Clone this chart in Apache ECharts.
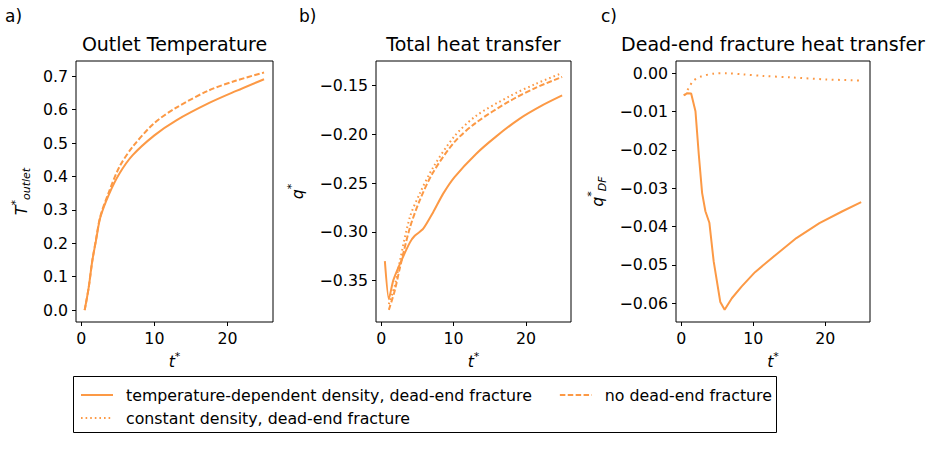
<!DOCTYPE html>
<html>
<head>
<meta charset="utf-8">
<script src="https://cdn.jsdelivr.net/npm/echarts@6/dist/echarts.min.js"></script>
<style>
  html, body { margin: 0; padding: 0; background: #fff; }
  #chart { width: 929px; height: 474px; }
</style>
</head>
<body>
<div id="chart"></div>
<script>
// a) outlet temperature
var tOutlet = [0.46, 1.0, 1.5, 2.0, 2.6, 3.8, 5.2, 7.0, 10.0, 13.0, 17.5, 21.2, 25.0];
var outletVarDens = [0.0, 0.066, 0.147, 0.207, 0.277, 0.347, 0.408, 0.463, 0.523, 0.568, 0.62, 0.656, 0.691];
var outletNoDF = [0.0, 0.066, 0.147, 0.21, 0.28, 0.355, 0.428, 0.488, 0.56, 0.606, 0.658, 0.687, 0.711];

// b) total heat transfer
var tTotal = [0.5, 1.05, 1.65, 2.57, 3.95, 4.63, 5.78, 7.16, 8.54, 10.1, 13.1, 15.9, 19.1, 22.3, 25.0];
var totalVarDens = [-0.330, -0.369, -0.350, -0.333, -0.311, -0.304, -0.297, -0.280, -0.261, -0.244, -0.220, -0.202, -0.184, -0.170, -0.160];
var tTotal2 = [1.05, 1.87, 2.57, 3.95, 5.3, 7.16, 10.1, 13.1, 17.7, 21.4, 25.0];
var totalNoDF = [-0.380, -0.360, -0.337, -0.296, -0.268, -0.239, -0.208, -0.188, -0.166, -0.152, -0.141];
var totalConstDens = [-0.374, -0.355, -0.330, -0.285, -0.261, -0.234, -0.202, -0.181, -0.161, -0.148, -0.137];

// c) dead-end fracture heat transfer
var tDF = [0.37, 0.83, 1.38, 1.98, 2.44, 2.9, 3.36, 3.91, 4.51, 5.43, 6.03, 7.03, 8.41, 10.25, 13.24, 16.0, 19.2, 22.4, 25.0];
var dfVarDens = [-0.0058, -0.0052, -0.0053, -0.0099, -0.0212, -0.0312, -0.036, -0.039, -0.0491, -0.0597, -0.0617, -0.0587, -0.0556, -0.0519, -0.0472, -0.0430, -0.0391, -0.0360, -0.0336];
var tDF2 = [0.4, 1.06, 1.66, 2.67, 4.5, 6.35, 8.64, 11.4, 15.5, 20.1, 25.0];
var dfConstDens = [-0.0058, -0.0038, -0.002, -0.0009, -0.0001, 0.0, -0.0003, -0.0007, -0.0011, -0.0016, -0.0019];

var xTicks = [0, 10, 20];
var yTicksA = [0, 0.1, 0.2, 0.3, 0.4, 0.5, 0.6, 0.7];
var yTicksB = [-0.35, -0.30, -0.25, -0.20, -0.15];
var yTicksC = [-0.06, -0.05, -0.04, -0.03, -0.02, -0.01, 0];

var names = ['temperature-dependent density, dead-end fracture', 'no dead-end fracture', 'constant density, dead-end fracture'];

var orange = '#fc9945';
var font = 'DejaVu Sans';
var fs = 15.8;

function zip(xs, ys) {
    return xs.map(function (x, i) { return [x, ys[i]]; });
}
function minus(v, d) {
    var s = Math.abs(v).toFixed(d);
    return (v < -1e-9 ? '\u2212' : '') + s;
}

var rich = {
    it: { fontFamily: font, fontStyle: 'italic', fontSize: fs, color: '#000', lineHeight: 22 },
    sup: { fontFamily: font, fontSize: 11, color: '#000', lineHeight: 12, verticalAlign: 'top' },
    sub: { fontFamily: font, fontStyle: 'italic', fontSize: 11, color: '#000', lineHeight: 12, verticalAlign: 'bottom' }
};

var grids = [
    { left: 76, top: 61, width: 197, height: 261 },
    { left: 376, top: 61, width: 195, height: 261 },
    { left: 676, top: 61, width: 194, height: 261 }
];
grids.forEach(function (g) {
    g.show = true;
    g.borderColor = '#000';
    g.borderWidth = 1;
    g.backgroundColor = 'transparent';
});

function xAxis(i) {
    return {
        type: 'value', gridIndex: i, min: -0.725, max: 26.225,
        name: '{it|t}{sup|*}', nameLocation: 'middle', nameGap: 21,
        nameTextStyle: { rich: rich },
        axisLine: { show: false, onZero: false },
        axisTick: { show: true, length: 4, customValues: xTicks, lineStyle: { color: '#000' } },
        axisLabel: { customValues: xTicks, margin: 8, color: '#000', fontSize: fs, fontFamily: font },
        splitLine: { show: false }
    };
}
function yAxis(i, min, max, ticks, dec, name, gap) {
    return {
        type: 'value', gridIndex: i, min: min, max: max,
        name: name, nameLocation: 'middle', nameGap: gap, nameRotate: 90,
        nameTextStyle: { rich: rich },
        axisLine: { show: false, onZero: false },
        axisTick: { show: true, length: 4, customValues: ticks, lineStyle: { color: '#000' } },
        axisLabel: {
            customValues: ticks, margin: 8, color: '#000', fontSize: fs, fontFamily: font,
            formatter: function (v) { return minus(v, dec); }
        },
        splitLine: { show: false }
    };
}

function line(name, i, data, type, smooth) {
    return {
        name: name, type: 'line', xAxisIndex: i, yAxisIndex: i,
        data: data, symbol: 'none', smooth: smooth,
        color: orange,
        lineStyle: { color: orange, width: 2, type: type },
        z: 3
    };
}

var dashed = [5.5, 2.4];
var dotted = [1.6, 3];

var chart = echarts.init(document.getElementById('chart'), null, { renderer: 'svg' });
var option = {
    animation: false,
    backgroundColor: '#fff',
    title: [
        { text: 'Outlet Temperature', left: 174.5 },
        { text: 'Total heat transfer', left: 473.5 },
        { text: 'Dead-end fracture heat transfer', left: 773 }
    ].map(function (t) {
        t.top = 34;
        t.padding = 0;
        t.textAlign = 'center';
        t.textStyle = { fontFamily: font, fontSize: 19, fontWeight: 'normal', color: '#000' };
        return t;
    }),
    grid: grids,
    xAxis: [xAxis(0), xAxis(1), xAxis(2)],
    yAxis: [
        yAxis(0, -0.0355, 0.7455, yTicksA, 1, '{it|T}{sup|*}{sub|outlet}', 44),
        yAxis(1, -0.3924, -0.1247, yTicksB, 2, '{it|q}{sup|*}', 68),
        yAxis(2, -0.0649, 0.0032, yTicksC, 2, '{it|q}{sup|*}{sub|DF}', 68)
    ],
    legend: [
        { data: [names[0], names[1]], itemGap: 27, top: 387 },
        { data: [names[2]], top: 410 }
    ].map(function (l) {
        l.left = 80;
        l.padding = 0;
        l.itemWidth = 32;
        l.itemHeight = 14;
        l.selectedMode = false;
        l.itemStyle = { opacity: 0 };
        l.textStyle = { fontFamily: font, fontSize: fs, color: '#000', padding: [0, 0, 0, 8] };
        return l;
    }),
    graphic: [
        { type: 'rect', shape: { x: 73.5, y: 376.5, width: 703, height: 56 }, style: { fill: 'none', stroke: '#000', lineWidth: 1 }, z: 0 },
        { type: 'text', left: 5, top: 7, style: { text: 'a)', font: '17px "DejaVu Sans"', fill: '#000' } },
        { type: 'text', left: 299, top: 7, style: { text: 'b)', font: '17px "DejaVu Sans"', fill: '#000' } },
        { type: 'text', left: 601, top: 7, style: { text: 'c)', font: '17px "DejaVu Sans"', fill: '#000' } }
    ],
    series: [
        line(names[0], 0, zip(tOutlet, outletVarDens), 'solid', 0.3),
        line(names[1], 0, zip(tOutlet, outletNoDF), dashed, 0.3),
        line(names[0], 1, zip(tTotal, totalVarDens), 'solid', 0.2),
        line(names[1], 1, zip(tTotal2, totalNoDF), dashed, 0.3),
        line(names[2], 1, zip(tTotal2, totalConstDens), dotted, 0.3),
        line(names[0], 2, zip(tDF, dfVarDens), 'solid', false),
        line(names[2], 2, zip(tDF2, dfConstDens), [1.8, 4.5], 0.3)
    ]
};
chart.setOption(option);
</script>
</body>
</html>
